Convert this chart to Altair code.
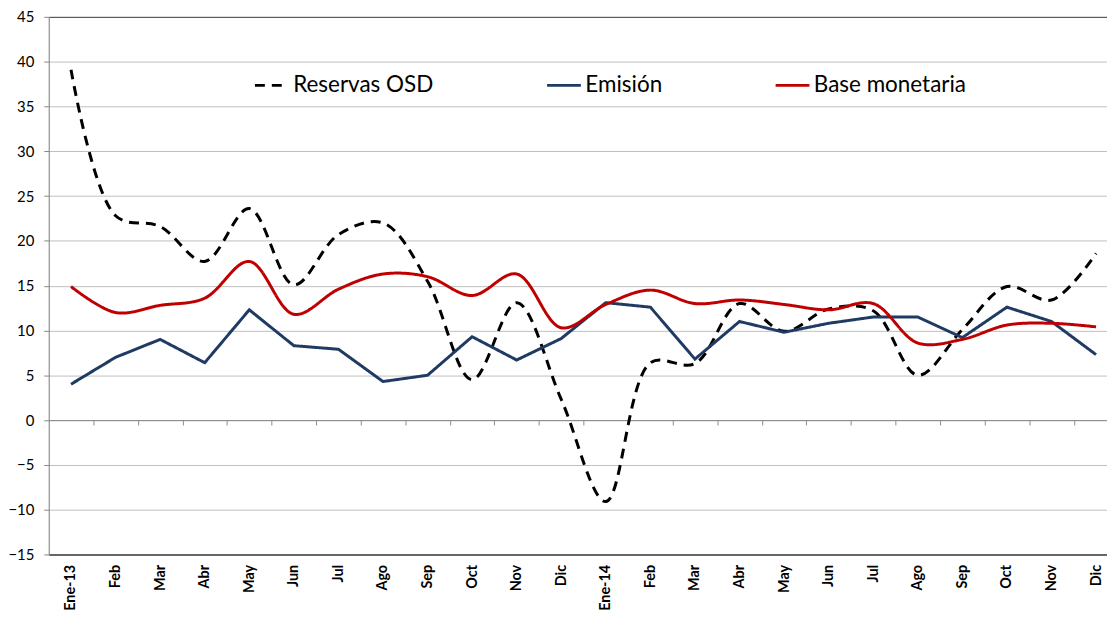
import altair as alt
import pandas as pd

# ---- data ----
months = ["Ene-13", "Feb", "Mar", "Abr", "May", "Jun", "Jul", "Ago", "Sep", "Oct", "Nov", "Dic",
          "Ene-14", "Feb", "Mar", "Abr", "May", "Jun", "Jul", "Ago", "Sep", "Oct", "Nov", "Dic"]
reservas = [39.1, 22.8, 21.6, 17.7, 23.6, 15.1, 20.7, 22.0, 15.5, 4.5, 13.1, 2.3,
            -9.1, 6.4, 6.3, 13.0, 9.9, 12.4, 12.2, 5.0, 10.1, 14.9, 13.4, 18.6]
emision = [4.0, 7.0, 9.0, 6.4, 12.3, 8.3, 7.9, 4.3, 5.0, 9.3, 6.7, 9.1,
           13.1, 12.6, 6.8, 11.0, 9.8, 10.8, 11.5, 11.5, 9.2, 12.6, 11.0, 7.3]
base = [14.9, 12.0, 12.8, 13.6, 17.7, 11.8, 14.6, 16.3, 16.0, 13.9, 16.3, 10.3,
        12.9, 14.5, 13.0, 13.4, 12.9, 12.3, 13.0, 8.6, 9.0, 10.6, 10.8, 10.4]

series_names = ["Reservas OSD", "Emisión", "Base monetaria"]
series_colors = ["#000000", "#1F3B63", "#C00000"]
series_dashes = [[10, 7], [1, 0], [1, 0]]
y_ticks = list(range(-15, 50, 5))

rows = []
for i, m in enumerate(months):
    for name, vals in zip(series_names, [reservas, emision, base]):
        rows.append({"idx": i, "mes": m, "serie": name, "valor": vals[i]})
df = pd.DataFrame(rows)

FONT = "Lato"
x_domain = [-0.5, 23.246]
label_expr = "[" + ",".join("'%s'" % m for m in months) + "][datum.value]"

legend = alt.Legend(
    title=None, orient="none", legendX=206, legendY=50, direction="horizontal",
    symbolType="stroke", symbolSize=1156, symbolStrokeWidth=3,
    labelFontSize=22.6, labelColor="black", labelFont=FONT, labelOffset=3,
    columnPadding=107, padding=0,
)
color = alt.Color("serie:N", scale=alt.Scale(domain=series_names, range=series_colors), legend=legend)
dash = alt.StrokeDash("serie:N", scale=alt.Scale(domain=series_names, range=series_dashes), legend=legend)

y_enc = alt.Y(
    "valor:Q",
    scale=alt.Scale(domain=[-15, 45], nice=False, zero=False),
    axis=alt.Axis(
        values=y_ticks, title=None, grid=True,
        gridColor={"condition": {"test": "datum.value === 45", "value": "#404040"}, "value": "#bfbfbf"},
        gridWidth=1, domainColor="#868686", tickColor="#868686", tickSize=5,
        labelFontSize=15, labelColor="black", labelFont=FONT, labelPadding=10,
    ),
)

x_main = alt.X(
    "idx:Q",
    scale=alt.Scale(domain=x_domain, nice=False, zero=False),
    axis=alt.Axis(
        orient="bottom", values=list(range(len(months))), labelExpr=label_expr, title=None,
        grid=False, ticks=False, tickSize=0, domain=True, domainColor="#404040", domainWidth=1.5,
        labelAngle=-90, labelFontWeight="bold", labelFontSize=14.5, labelColor="black",
        labelFont=FONT, labelPadding=10,
    ),
)
x_plain = alt.X("idx:Q", scale=alt.Scale(domain=x_domain, nice=False, zero=False), axis=None)
x_ticks = alt.X(
    "idx:Q",
    scale=alt.Scale(domain=x_domain, nice=False, zero=False),
    axis=alt.Axis(
        orient="bottom", offset=-135.25, values=[i + 0.5 for i in range(len(months) - 1)],
        labels=False, title=None, grid=False, domain=True, domainColor="#8c8c8c",
        ticks=True, tickColor="#8c8c8c", tickSize=5,
    ),
)

base_chart = alt.Chart(df)

l_res = base_chart.transform_filter(alt.datum.serie == "Reservas OSD").mark_line(
    interpolate="catmull-rom", strokeWidth=3
).encode(x=x_main, y=y_enc, color=color, strokeDash=dash)

l_emi = base_chart.transform_filter(alt.datum.serie == "Emisión").mark_line(
    interpolate="linear", strokeWidth=3
).encode(x=x_plain, y=y_enc, color=color, strokeDash=dash)

l_base = base_chart.transform_filter(alt.datum.serie == "Base monetaria").mark_line(
    interpolate="catmull-rom", strokeWidth=3
).encode(x=x_plain, y=y_enc, color=color, strokeDash=dash)

l_ticks = base_chart.mark_point(opacity=0).encode(x=x_ticks, y=y_enc)

chart = (
    alt.layer(l_ticks, l_res, l_emi, l_base)
    .resolve_scale(x="independent")
    .properties(
        width=1065, height=541,
        padding={"left": 41, "top": 7, "right": 0, "bottom": 54},
        autosize=alt.AutoSizeParams(type="none"),
    )
    .configure_view(strokeOpacity=0)
    .configure(font=FONT)
)

chart.save("out.html", embed_options={"renderer": "svg", "actions": False})
